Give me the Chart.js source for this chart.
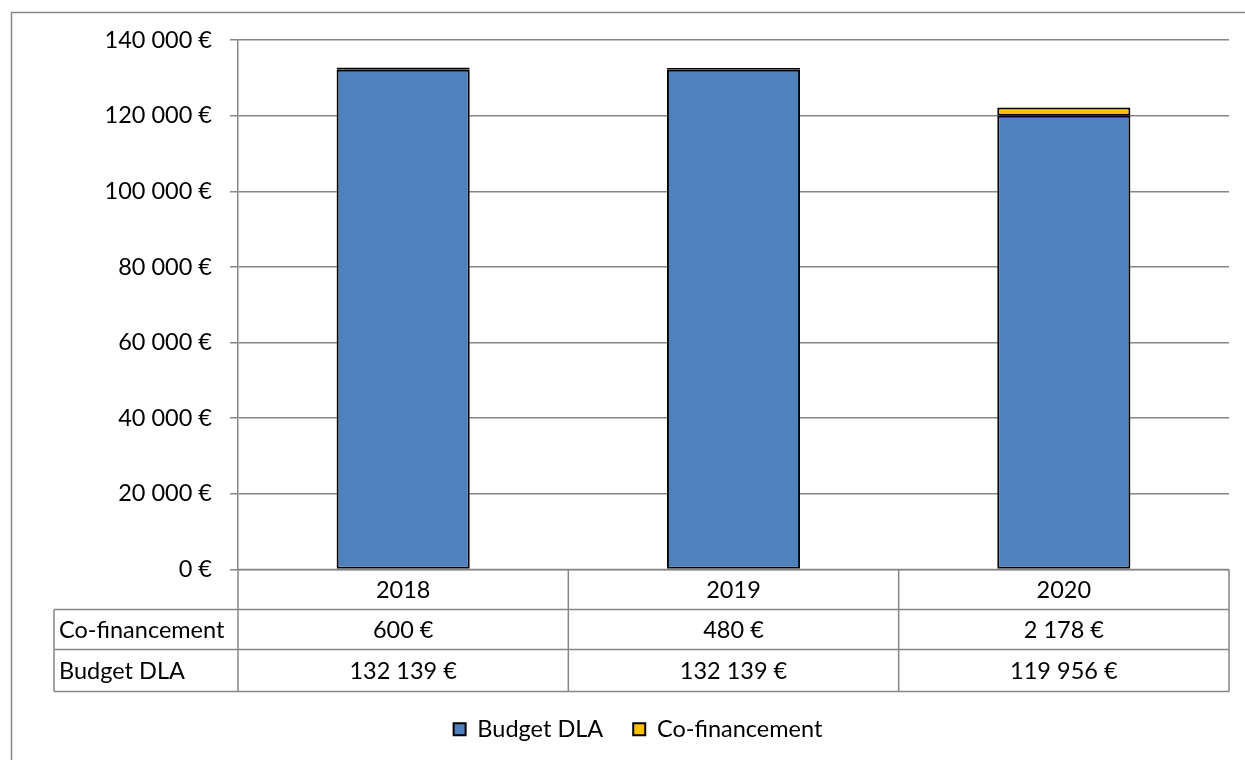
<!DOCTYPE html>
<html>
<head>
<meta charset="utf-8">
<script src="https://cdn.jsdelivr.net/npm/chart.js@4/dist/chart.umd.min.js"></script>
<style>
    html, body { margin: 0; padding: 0; background: #fff; }
    #wrap { width: 1245px; height: 760px; }
</style>
</head>
<body>
<div id="wrap"><canvas id="budgetChart" width="1245" height="760"></canvas></div>
<script>
const categories = ['2018', '2019', '2020'];
const budgetDLA = [132139, 132139, 119956];
const coFinancement = [600, 480, 2178];
const yTicks = [0, 20000, 40000, 60000, 80000, 100000, 120000, 140000];

const FONT = 'Lato, "Liberation Sans", sans-serif';
const FONT_SIZE = 23.5;
const GRID = '#868686';
const TABLE_H = 122;   // three rows of the data table

function euro(v) {
    return String(v).replace(/\B(?=(\d{3})+(?!\d))/g, ' ') + '\u00a0€';
}

// outer frame of the chart object
const framePlugin = {
    id: 'frame',
    beforeDraw(chart) {
        const ctx = chart.ctx;
        ctx.save();
        ctx.strokeStyle = GRID;
        ctx.lineWidth = 1.5;
        ctx.beginPath();
        ctx.moveTo(11.5, chart.height + 2);
        ctx.lineTo(11.5, 12.5);
        ctx.lineTo(chart.width + 2, 12.5);
        ctx.stroke();
        ctx.restore();
    }
};

// data table under the plot, Excel style
const tablePlugin = {
    id: 'dataTable',
    afterDraw(chart) {
        const ctx = chart.ctx;
        const x = chart.scales.x;
        const top = chart.chartArea.bottom;
        const colW = (x.right - x.left) / categories.length;
        const rows = [
            { label: 'Co-financement', values: coFinancement },
            { label: 'Budget DLA', values: budgetDLA }
        ];
        const rowY = [top, top + 40, top + 80, top + TABLE_H];
        const headLeft = 54;

        ctx.save();
        ctx.strokeStyle = GRID;
        ctx.lineWidth = 1.5;
        ctx.beginPath();
        ctx.moveTo(x.left, rowY[0]); ctx.lineTo(x.right, rowY[0]);
        for (let r = 1; r < rowY.length; r++) {
            ctx.moveTo(headLeft, rowY[r]); ctx.lineTo(x.right, rowY[r]);
        }
        for (let c = 0; c <= categories.length; c++) {
            const cx = x.left + c * colW;
            ctx.moveTo(cx, rowY[0]); ctx.lineTo(cx, rowY[3]);
        }
        ctx.moveTo(headLeft, rowY[1]); ctx.lineTo(headLeft, rowY[3]);
        ctx.stroke();

        ctx.fillStyle = '#000';
        ctx.font = FONT_SIZE + 'px ' + FONT;
        ctx.textBaseline = 'middle';
        ctx.textAlign = 'center';
        categories.forEach((c, i) => {
            ctx.fillText(c, x.getPixelForValue(i), (rowY[0] + rowY[1]) / 2 + 1);
        });
        rows.forEach((row, r) => {
            const cy = (rowY[r + 1] + rowY[r + 2]) / 2 + 1;
            ctx.textAlign = 'left';
            ctx.fillText(row.label, headLeft + 5, cy);
            ctx.textAlign = 'center';
            row.values.forEach((v, i) => {
                ctx.fillText(euro(v), x.getPixelForValue(i), cy);
            });
        });
        ctx.restore();
    }
};

new Chart(document.getElementById('budgetChart'), {
    type: 'bar',
    data: {
        labels: categories,
        datasets: [{
            label: 'Budget DLA',
            data: budgetDLA,
            backgroundColor: '#4F81BD',
            borderColor: '#000',
            borderWidth: 2,
            borderSkipped: false
        }, {
            label: 'Co-financement',
            data: coFinancement,
            backgroundColor: '#FFC000',
            borderColor: '#000',
            borderWidth: 2,
            borderSkipped: false
        }]
    },
    options: {
        responsive: false,
        animation: false,
        layout: { padding: { left: 47, right: 16, top: 40, bottom: 9 } },
        datasets: {
            bar: { categoryPercentage: 1, barPercentage: 0.403 }
        },
        scales: {
            x: {
                stacked: true,
                // keeps room for the data table; the table itself is drawn by tablePlugin
                afterFit(scale) { scale.height = 118; },
                grid: { display: false },
                border: { display: false },
                ticks: { display: false }
            },
            y: {
                stacked: true,
                min: 0,
                max: 140000,
                afterFit(scale) { scale.width = 191; },
                afterBuildTicks(scale) { scale.ticks = yTicks.map(v => ({ value: v })); },
                border: { display: true, color: GRID, width: 1.5 },
                grid: { color: GRID, lineWidth: 1.5, tickLength: 8 },
                ticks: {
                    color: '#000',
                    padding: 18,
                    font: { family: FONT, size: FONT_SIZE },
                    callback: v => euro(v)
                }
            }
        },
        plugins: {
            tooltip: { enabled: false },
            legend: {
                position: 'bottom',
                labels: {
                    color: '#000',
                    boxWidth: 12,
                    boxHeight: 12,
                    padding: 30,
                    font: { family: FONT, size: FONT_SIZE }
                }
            }
        }
    },
    plugins: [framePlugin, tablePlugin]
});
</script>
</body>
</html>
